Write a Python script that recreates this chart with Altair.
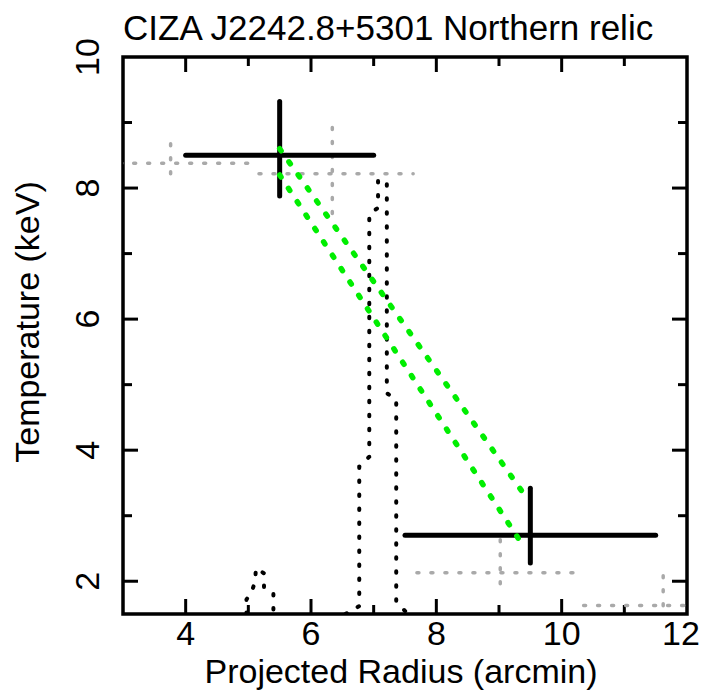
import altair as alt
import pandas as pd

TITLE = "CIZA J2242.8+5301 Northern relic"
X_TITLE = "Projected Radius (arcmin)"
Y_TITLE = "Temperature (keV)"
FONT = "Liberation Sans"

# black solid error bars
blk_x = [5.5, 9.5]
blk_xlo = [4.0, 7.5]
blk_xhi = [7.0, 11.5]
blk_y = [8.5, 2.7]
blk_ylo = [7.88, 2.28]
blk_yhi = [9.32, 3.42]

# grey dotted error bars
gry_x = [3.76, 6.34, 9.02, 11.62]
gry_xlo = [2.5, 5.17, 7.69, 10.35]
gry_xhi = [5.0, 7.63, 10.2, 12.9]
gry_y = [8.38, 8.22, 2.13, 1.63]
gry_ylo = [8.22, 7.61, 1.96, 1.2]
gry_yhi = [8.68, 8.94, 2.66, 2.09]

# green dotted lines
grn_id = ["a", "a", "b", "b"]
grn_x = [5.5, 9.42, 5.5, 9.38]
grn_y = [8.6, 3.3, 8.2, 2.55]

# black dotted profile (large)
prof_x = [6.55, 6.77, 6.77, 6.93, 6.93, 7.07, 7.07, 7.21, 7.21, 7.36, 7.36, 7.55]
prof_y = [1.50, 1.62, 3.75, 3.90, 7.60, 7.70, 8.12, 8.10, 4.87, 4.77, 1.68, 1.50]

# black dotted profile (small)
peak_x = [4.97, 4.97, 5.05, 5.11, 5.12, 5.25, 5.25, 5.40, 5.40]
peak_y = [1.50, 1.72, 1.83, 2.00, 2.20, 2.12, 1.90, 1.82, 1.50]

x_major = [4, 6, 8, 10]
x_minor = [5, 7, 9, 11]
y_major = [2, 4, 6, 8]
y_minor = [3, 5, 7, 9]
x_labels = [4, 6, 8, 10]
x_label_last = [12]
y_labels = [2, 4, 6, 8, 10]

W, H = 564, 557
MAJ, MIN = 15, 9

xs = alt.Scale(domain=[3, 12], nice=False, zero=False)
ys = alt.Scale(domain=[1.5, 10], nice=False, zero=False)

blk = pd.DataFrame(dict(x=blk_x, xlo=blk_xlo, xhi=blk_xhi, y=blk_y, ylo=blk_ylo, yhi=blk_yhi))
gry = pd.DataFrame(dict(x=gry_x, xlo=gry_xlo, xhi=gry_xhi, y=gry_y, ylo=gry_ylo, yhi=gry_yhi))
grn = pd.DataFrame(dict(g=grn_id, x=grn_x, y=grn_y, i=list(range(len(grn_x)))))
prof = pd.DataFrame(dict(x=prof_x, y=prof_y, i=list(range(len(prof_x)))))
peak = pd.DataFrame(dict(x=peak_x, y=peak_y, i=list(range(len(peak_x)))))

X = lambda f: alt.X(f, scale=xs, axis=None)
Y = lambda f: alt.Y(f, scale=ys, axis=None)

def vticks(vals, length, top):
    df = pd.DataFrame(dict(v=vals))
    if top:
        enc = dict(y=alt.value(0), y2=alt.value(length))
    else:
        enc = dict(y=alt.value(H), y2=alt.value(H - length))
    return alt.Chart(df).mark_rule(color="black", strokeWidth=3).encode(x=X("v:Q"), **enc)

def hticks(vals, length, left):
    df = pd.DataFrame(dict(v=vals))
    if left:
        enc = dict(x=alt.value(0), x2=alt.value(length))
    else:
        enc = dict(x=alt.value(W), x2=alt.value(W - length))
    return alt.Chart(df).mark_rule(color="black", strokeWidth=3).encode(y=Y("v:Q"), **enc)

ticks = [vticks(x_major, MAJ, False), vticks(x_minor, MIN, False),
         vticks(x_major, MAJ, True), vticks(x_minor, MIN, True),
         hticks(y_major, MAJ, True), hticks(y_minor, MIN, True),
         hticks(y_major, MAJ, False), hticks(y_minor, MIN, False)]

# tick labels and titles as text marks
txt = dict(font=FONT, fontSize=34, color="black")
xlab = alt.Chart(pd.DataFrame(dict(v=x_labels))).mark_text(
    align="center", baseline="alphabetic", **txt).encode(
    x=X("v:Q"), y=alt.value(H + 31), text="v:Q")
xlab_last = alt.Chart(pd.DataFrame(dict(v=x_label_last))).mark_text(
    align="center", baseline="alphabetic", dx=-6, **txt).encode(
    x=X("v:Q"), y=alt.value(H + 31), text="v:Q")
ylab = alt.Chart(pd.DataFrame(dict(v=y_labels))).mark_text(
    align="center", baseline="alphabetic", angle=270, **txt).encode(
    y=Y("v:Q"), x=alt.value(-24), text="v:Q")
xtitle = alt.Chart(pd.DataFrame(dict(t=[X_TITLE]))).mark_text(
    align="center", baseline="alphabetic", **txt).encode(
    x=alt.value(278), y=alt.value(H + 69), text="t:N")
ytitle = alt.Chart(pd.DataFrame(dict(t=[Y_TITLE]))).mark_text(
    align="center", baseline="alphabetic", angle=270, **txt).encode(
    x=alt.value(-84), y=alt.value(265), text="t:N")
ctitle = alt.Chart(pd.DataFrame(dict(t=[TITLE]))).mark_text(
    align="left", baseline="alphabetic", font=FONT, fontSize=35, color="black").encode(
    x=alt.value(0), y=alt.value(-17), text="t:N")

gdash = dict(color="#a9a9a9", strokeWidth=3.5, strokeDash=[2, 12], strokeCap="round", clip=True)
gry_h = alt.Chart(gry).mark_rule(**gdash).encode(x=X("xlo:Q"), x2="xhi:Q", y=Y("y:Q"))
gry_v = alt.Chart(gry).mark_rule(**gdash).encode(x=X("x:Q"), y=Y("ylo:Q"), y2="yhi:Q")

bdot = dict(color="black", strokeWidth=4, strokeDash=[1.5, 12.5], strokeCap="round", clip=True)
prof_l = alt.Chart(prof).mark_line(**bdot).encode(x=X("x:Q"), y=Y("y:Q"), order=alt.Order("i:Q"))
peak_l = alt.Chart(peak).mark_line(**bdot).encode(x=X("x:Q"), y=Y("y:Q"), order=alt.Order("i:Q"))

bsolid = dict(color="black", strokeWidth=5, strokeCap="round", clip=True)
blk_h = alt.Chart(blk).mark_rule(**bsolid).encode(x=X("xlo:Q"), x2="xhi:Q", y=Y("y:Q"))
blk_v = alt.Chart(blk).mark_rule(**bsolid).encode(x=X("x:Q"), y=Y("ylo:Q"), y2="yhi:Q")

grn_l = alt.Chart(grn).mark_line(color="#00ee00", strokeWidth=5.5, strokeCap="round",
                                 strokeDash=[2.5, 13.5], clip=True).encode(
    x=X("x:Q"), y=Y("y:Q"), detail="g:N", order=alt.Order("i:Q"))

chart = alt.layer(*ticks, gry_h, gry_v, prof_l, peak_l, blk_h, blk_v, grn_l,
                  xlab, xlab_last, ylab, xtitle, ytitle, ctitle).properties(
    width=W, height=H,
    autosize=alt.AutoSizeParams(type="none"),
    padding={"left": 115, "top": 49, "right": 14, "bottom": 76},
    background="white",
).configure_view(stroke="black", strokeWidth=3.5)

chart.save("out.html", embed_options={"renderer": "svg", "actions": False})
